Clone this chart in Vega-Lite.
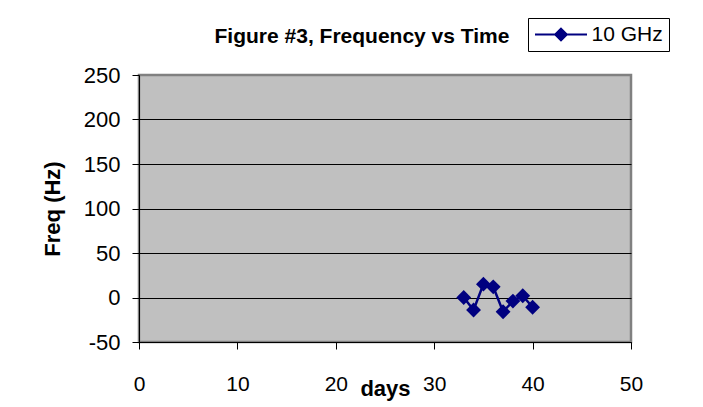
{
  "$schema": "https://vega.github.io/schema/vega-lite/v6.json",
  "width": 492,
  "height": 267,
  "autosize": "none",
  "padding": {"left": 139, "top": 75, "right": 72, "bottom": 65},
  "background": "white",
  "title": {
    "text": "Figure #3, Frequency vs Time",
    "font": "Liberation Sans",
    "fontSize": 21,
    "fontWeight": "bold",
    "color": "black",
    "anchor": "middle",
    "dx": -23,
    "offset": -46,
    "baseline": "alphabetic"
  },
  "data": {
    "values": [
      {"day": 33, "freq": 0, "series": "10 GHz"},
      {"day": 34, "freq": -14, "series": "10 GHz"},
      {"day": 35, "freq": 15, "series": "10 GHz"},
      {"day": 36, "freq": 12, "series": "10 GHz"},
      {"day": 37, "freq": -16, "series": "10 GHz"},
      {"day": 38, "freq": -4, "series": "10 GHz"},
      {"day": 39, "freq": 2, "series": "10 GHz"},
      {"day": 40, "freq": -11, "series": "10 GHz"}
    ]
  },
  "encoding": {
    "x": {
      "field": "day",
      "type": "quantitative",
      "scale": {"domain": [0, 50], "nice": false, "zero": false},
      "axis": {
        "values": [0, 10, 20, 30, 40, 50],
        "grid": false,
        "domainColor": "black",
        "domainWidth": 1,
        "tickColor": "black",
        "tickSize": 7,
        "labelPadding": 24,
        "labelFlush": false,
        "labelFont": "Liberation Sans",
        "labelFontSize": 21,
        "labelColor": "black",
        "title": "days",
        "titleFont": "Liberation Sans",
        "titleFontSize": 22,
        "titleFontWeight": "bold",
        "titleColor": "black",
        "titleY": 53,
        "titleBaseline": "alphabetic"
      }
    },
    "y": {
      "field": "freq",
      "type": "quantitative",
      "scale": {"domain": [-50, 250], "nice": false, "zero": false},
      "axis": {
        "values": [-50, 0, 50, 100, 150, 200, 250],
        "labelExpr": "'' + datum.value",
        "grid": true,
        "gridColor": {"condition": {"test": "datum.value === 250", "value": "#808080"}, "value": "black"},
        "gridOpacity": 1,
        "gridWidth": 1,
        "domainColor": "black",
        "domainWidth": 1,
        "tickColor": "black",
        "tickSize": 7,
        "labelPadding": 12,
        "labelFlush": false,
        "labelFont": "Liberation Sans",
        "labelFontSize": 22,
        "labelColor": "black",
        "title": "Freq (Hz)",
        "titleFont": "Liberation Sans",
        "titleFontSize": 22,
        "titleFontWeight": "bold",
        "titleColor": "black",
        "titleX": -87,
        "titleY": 133.5,
        "titleAngle": 270,
        "titleAlign": "center",
        "titleBaseline": "middle"
      }
    },
    "color": {
      "field": "series",
      "type": "nominal",
      "scale": {"domain": ["10 GHz"], "range": ["#000080"]},
      "legend": {
        "title": null,
        "orient": "none",
        "legendX": 389,
        "legendY": -57,
        "strokeColor": "black",
        "fillColor": "white",
        "padding": 6,
        "labelFont": "Liberation Sans",
        "labelFontSize": 21,
        "labelColor": "black",
        "symbolSize": 169,
        "symbolOffset": 16.5,
        "labelOffset": 20,
        "symbolStrokeWidth": 2,
        "symbolOpacity": 1,
        "encode": {
          "symbols": {
            "update": {
              "shape": {"value": "M-4,0H4M0,-0.9L0.9,0L0,0.9L-0.9,0Z"},
              "fill": {"value": "#000080"},
              "stroke": {"value": "#000080"},
              "strokeWidth": {"value": 2},
              "opacity": {"value": 1}
            }
          }
        }
      }
    }
  },
  "layer": [
    {"mark": {"type": "line", "strokeWidth": 2.5}},
    {"mark": {"type": "point", "shape": "diamond", "filled": true, "size": 220, "opacity": 1}}
  ],
  "config": {
    "view": {"fill": "#C0C0C0", "stroke": "#808080", "strokeWidth": 2.5}
  }
}
